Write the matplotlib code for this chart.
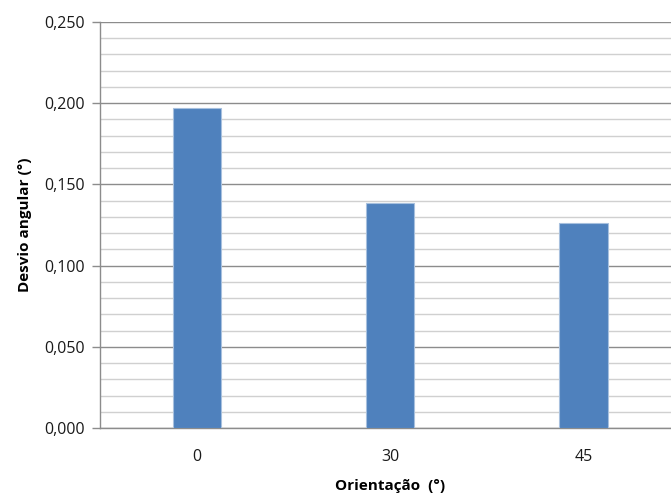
import matplotlib
matplotlib.use('Agg')
import matplotlib.pyplot as plt
from matplotlib.ticker import MultipleLocator, FuncFormatter

# Angular deviation per orientation
orientations = ["0", "30", "45"]
deviation = [0.197, 0.1385, 0.1265]

plt.rcParams['font.family'] = ['Open Sans', 'DejaVu Sans']

fig = plt.figure(figsize=(6.71, 4.95), dpi=100)
ax = fig.add_axes([0.149, 0.135, 0.865, 0.821])

x = range(len(orientations))
ax.bar(x, deviation, width=0.25, color="#4F81BD", edgecolor="#A7C0DE",
       linewidth=0.8, zorder=3)

ax.set_xlim(-0.5, 2.5)
ax.set_ylim(0, 0.25)
ax.yaxis.set_major_locator(MultipleLocator(0.05))
ax.yaxis.set_minor_locator(MultipleLocator(0.01))
ax.yaxis.set_major_formatter(FuncFormatter(lambda v, p: f"{v:.3f}".replace(".", ",")))

ax.grid(axis="y", which="major", color="#8C8C8C", linewidth=1.0, zorder=0)
ax.grid(axis="y", which="minor", color="#D0D0D0", linewidth=1.0, zorder=0)

ax.set_xticks(list(x))
ax.set_xticklabels(orientations)
ax.tick_params(axis="x", length=0, pad=15, labelsize=11.5, colors="#1A1A1A")
ax.tick_params(axis="y", which="major", length=6, width=1, color="#8C8C8C",
               labelsize=11.5, labelcolor="#1A1A1A", pad=5)
ax.tick_params(axis="y", which="minor", length=0)

for side in ["top", "right"]:
    ax.spines[side].set_visible(False)
for side in ["left", "bottom"]:
    ax.spines[side].set_color("#8C8C8C")
    ax.spines[side].set_linewidth(1.0)

ax.set_ylabel("Desvio angular (°)", fontsize=11, fontweight="bold", labelpad=9)
ax.set_xlabel("Orientação  (°)", fontsize=11, fontweight="bold", labelpad=10)

plt.savefig("out.png", dpi=100)
plt.close()
